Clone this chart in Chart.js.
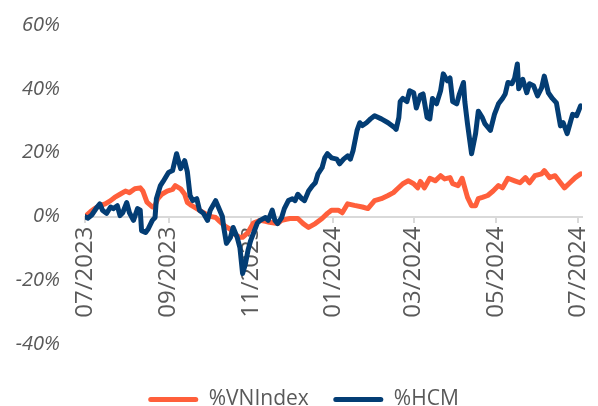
<!DOCTYPE html>
<html>
<head>
<meta charset="utf-8">
<script src="https://cdn.jsdelivr.net/npm/chart.js@4"></script>
<style>
html,body{margin:0;padding:0;background:#fff;}
canvas{display:block;}
</style>
</head>
<body>
<canvas id="c" width="598" height="406"></canvas>
<script>
// Days since 01/07/2023 and cumulative change (%)
const tickDays = [0, 62, 123, 184, 244, 305, 366];
const tickLabels = ['07/2023', '09/2023', '11/2023', '01/2024', '03/2024', '05/2024', '07/2024'];

const vnDays = [0,4,7,11,15,19,22,26,30,33,37,41,43,46,50,52,54,57,61,65,67,71,74,76,79,83,87,91,94,97,100,104,108,111,115,117,121,125,130,134,137,143,146,152,158,162,166,171,176,180,183,188,191,195,200,206,210,215,220,225,229,232,236,240,244,247,249,252,256,260,264,267,271,273,277,280,282,284,287,290,292,295,299,303,307,310,314,319,323,327,330,334,339,341,345,349,353,356,360,364,368];
const vnValues = [0,1.5,2.5,3.4,4,5,6,7,8,7.5,8.7,9,8,4.5,3,3.5,5.6,7,8,8.5,9.7,8.7,7,4.4,3.5,2.5,1.5,0.5,0,-0.3,-1.5,-3,-4,-5.5,-6.5,-6.5,-5,-2,-1.2,-1.5,-1.8,-2.2,-1.2,-0.6,-0.6,-2.2,-3.4,-2.2,-0.6,1,2,2,1.2,4,3.5,3,2.5,5,5.6,6.6,7.5,8.7,10.3,11.2,10.3,9,11,9,12,11.2,12.8,11.8,12.2,10.3,9.7,12,9,6,3.4,3.4,5.6,6,6.6,8,9.7,9,12,11.2,10.6,12.2,10.6,12.8,13.4,14.4,12.2,12.8,10.6,9,10.6,12.2,13.4];

const hcmDays = [0,2,5,9,11,13,16,19,21,24,26,28,31,33,36,39,41,42,45,47,50,52,53,56,58,62,65,68,71,74,76,78,80,83,85,88,91,93,97,99,102,103,105,108,110,113,115,117,119,121,123,125,128,130,134,136,139,141,143,146,148,151,154,156,158,161,163,166,169,171,173,176,178,180,183,187,189,192,195,197,199,202,204,206,209,212,215,220,225,230,231,233,234,236,239,241,244,246,249,251,254,256,258,261,264,266,269,271,273,276,278,281,282,284,287,290,292,295,297,301,304,307,310,312,314,317,319,321,322,325,328,330,333,336,339,341,344,347,350,353,355,358,360,362,365,368];
const hcmValues = [0,-0.5,0.5,3,4,2,1,3,2.5,3.4,0.3,1.2,4.4,1.2,-1.2,2.5,2,-4.4,-5,-3.8,-1.2,-0.3,5.6,9.7,11,13.8,14.4,19.7,15,17.5,14,6.6,5,5.6,2,1,-1.2,2,5,3,0,-3.4,-8.4,-6.5,-3.4,-6.5,-9.7,-17.8,-15,-10.6,-7.5,-5.3,-2,-1.2,-0.3,-1.2,2,-1.2,-2.2,-0.3,2.5,5,5.6,5,7,5.6,5,8,9.7,10.6,13.4,15.3,18.4,19.7,18.4,18,16.5,18,19,18,20.6,27,29.4,28.5,29.4,30.6,31.6,30.6,29.4,27.8,27.3,31,36,37,36,39.4,38.8,34,38,38.4,31,30.6,37,35.3,39.4,44.7,42.5,43.4,36,35.3,38.4,42,36,29,19.7,26,33,31,29,27,32,35.3,37,38.4,42,41.6,43.4,47.8,40,43,38.8,41.6,41,37.8,40.3,44,38.8,37,35.6,28.4,29.4,26,29,32,31.6,34.7];

const seriesNames = ['%VNIndex', '%HCM'];
const seriesColors = ['#FF5F3B', '#033D74'];

const toPoints = (days, vals) => days.map((d, i) => ({x: d, y: vals[i]}));
const textColor = '#595959';
const axisColor = '#D9D9D9';

// nudge the legend block slightly right, as in the original
const legendShift = {
  id: 'legendShift',
  afterLayout(chart) {
    if (chart.legend) { chart.legend.left += 12.5; chart.legend.right += 12.5; }
  }
};

new Chart(document.getElementById('c'), {
  type: 'line',
  plugins: [legendShift],
  data: {
    datasets: [
      {label: seriesNames[0], data: toPoints(vnDays, vnValues), borderColor: seriesColors[0], backgroundColor: seriesColors[0], order: 2},
      {label: seriesNames[1], data: toPoints(hcmDays, hcmValues), borderColor: seriesColors[1], backgroundColor: seriesColors[1], order: 1}
    ]
  },
  options: {
    responsive: false,
    devicePixelRatio: 1,
    animation: false,
    elements: {
      line: {borderWidth: 5, tension: 0, borderJoinStyle: 'round', borderCapStyle: 'round', fill: false},
      point: {radius: 0, hoverRadius: 0}
    },
    layout: {padding: {top: 25, right: 16, left: 0, bottom: -14}},
    plugins: {
      tooltip: {enabled: false},
      legend: {
        position: 'bottom',
        title: {display: true, text: '', font: {size: 1}, padding: {top: 19, bottom: 0}},
        labels: {
          boxWidth: 50,
          boxHeight: 5,
          useBorderRadius: true,
          borderRadius: 2.5,
          padding: 24.5,
          color: textColor,
          font: {family: 'Open Sans', size: 21},
          generateLabels: (chart) => Chart.defaults.plugins.legend.labels.generateLabels(chart)
            .map(l => Object.assign({}, l, {lineWidth: 0}))
            .sort((a, b) => a.datasetIndex - b.datasetIndex)
        }
      }
    },
    scales: {
      x: {
        type: 'linear',
        position: {y: 0},
        min: 0,
        max: 369,
        afterBuildTicks: (s) => { s.ticks = tickDays.map(v => ({value: v})); },
        afterFit: (s) => { s.paddingLeft = 0; s.paddingRight = 0; },
        ticks: {
          autoSkip: false,
          minRotation: 90,
          maxRotation: 90,
          padding: 5,
          color: textColor,
          font: {family: 'Open Sans', size: 24},
          callback: (v) => tickLabels[tickDays.indexOf(v)]
        },
        grid: {drawOnChartArea: false, drawTicks: true, tickLength: 5, color: axisColor, lineWidth: 2},
        border: {display: true, color: axisColor, width: 2}
      },
      y: {
        min: -40,
        max: 60,
        afterFit: (s) => { s.width = 85; s.paddingTop = 0; s.paddingBottom = 0; },
        ticks: {
          stepSize: 20,
          padding: 0,
          color: textColor,
          font: {family: 'Open Sans', size: 20, style: 'italic'},
          callback: (v) => v + '%'
        },
        grid: {display: false, drawTicks: true, tickLength: 25},
        border: {display: false}
      }
    }
  }
});
</script>
</body>
</html>
